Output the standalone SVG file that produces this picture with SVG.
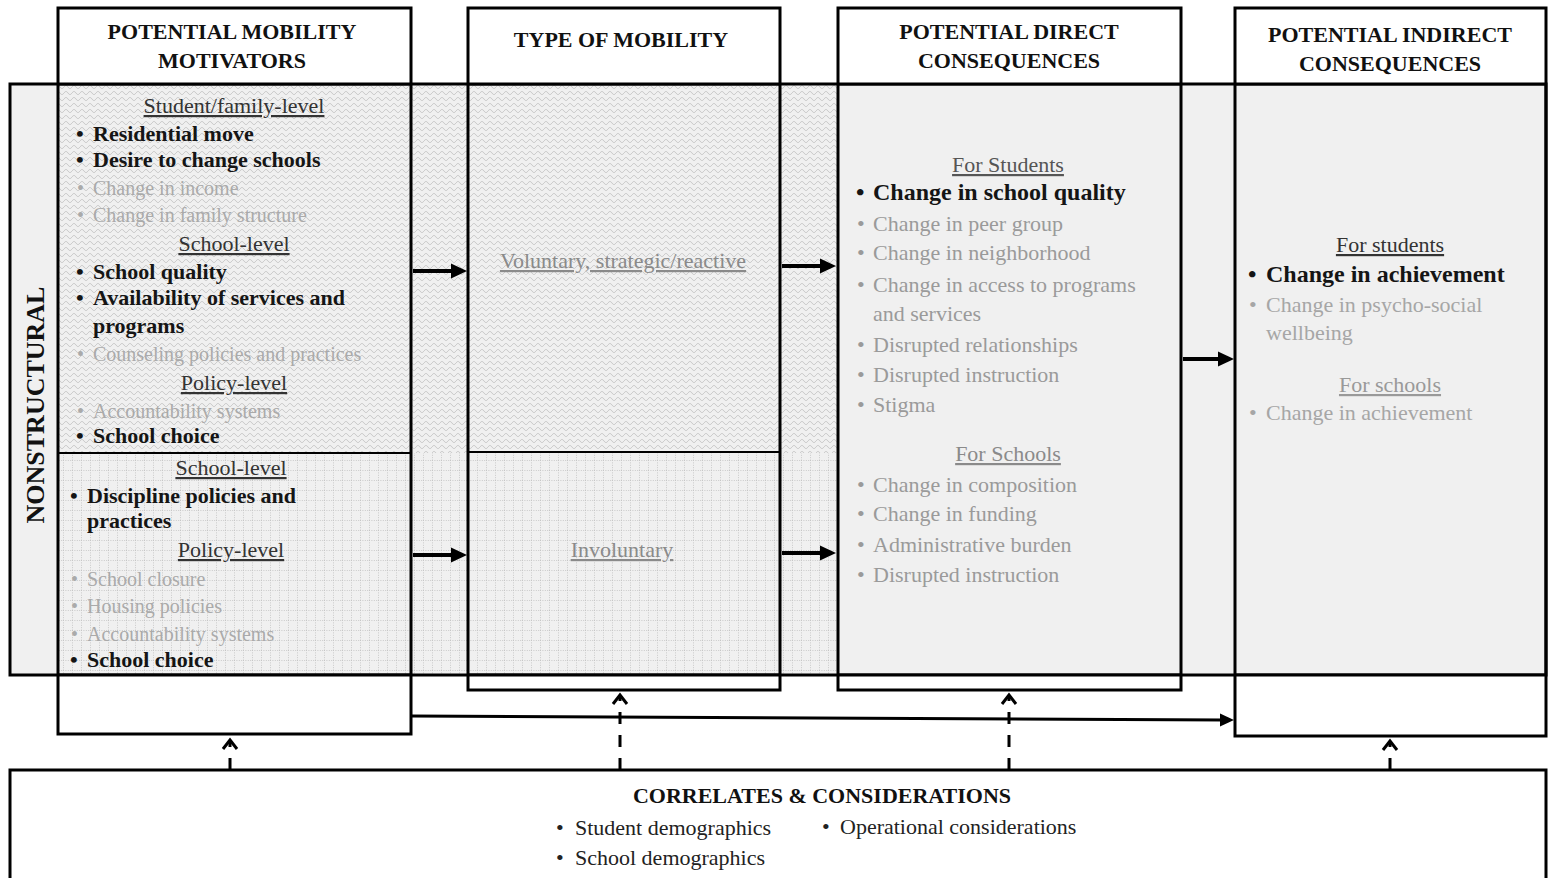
<svg xmlns="http://www.w3.org/2000/svg" width="1548" height="878" viewBox="0 0 1548 878">
<defs>
<style>
text{font-family:"Liberation Serif","Times New Roman",serif;}
.hd{font-family:"Liberation Serif",serif;font-size:22px;font-weight:bold;fill:#111;text-anchor:middle;}
.sub{font-family:"Liberation Serif",serif;font-size:22px;fill:#333;text-anchor:middle;text-decoration:underline;}
.bb{font-family:"Liberation Serif",serif;font-size:22px;font-weight:bold;fill:#151515;}
.g1{font-family:"Liberation Serif",serif;font-size:20px;fill:#aaaaaa;}
.g3{font-family:"Liberation Serif",serif;font-size:22px;fill:#9a9a9a;}
.b3{font-family:"Liberation Serif",serif;font-size:24px;font-weight:bold;fill:#151515;}
.bt{font-family:"Liberation Serif",serif;font-size:22px;fill:#222;}
.ln{fill:none;stroke:#000;stroke-width:3;}
.arr{stroke:#000;stroke-width:4;fill:none;}
.dash{stroke:#000;stroke-width:3;fill:none;stroke-dasharray:12 11;}
.chev{stroke:#000;stroke-width:3;fill:none;}
</style>
<pattern id="wave" width="8" height="6" patternUnits="userSpaceOnUse">
<path d="M0 3 C1.3 1 2.7 1 4 3 S6.7 5 8 3" fill="none" stroke="#bdbdbd" stroke-width="0.9"/>
</pattern>
<pattern id="grid" width="9" height="10" patternUnits="userSpaceOnUse">
<path d="M0.5 0 V10 M0 0.5 H9" fill="none" stroke="#c4c4c4" stroke-width="0.9" stroke-dasharray="1 1.4"/>
</pattern>
<marker id="ah" markerUnits="userSpaceOnUse" markerWidth="16" markerHeight="16" viewBox="0 0 16 16" refX="5" refY="8" orient="auto">
<path d="M0 0.5 L16 8 L0 15.5 z" fill="#000"/>
</marker>
<marker id="ah2" markerUnits="userSpaceOnUse" markerWidth="14" markerHeight="14" viewBox="0 0 14 14" refX="4" refY="7" orient="auto">
<path d="M0 0.5 L14 7 L0 13.5 z" fill="#000"/>
</marker>
</defs>
<rect width="1548" height="878" fill="#fff"/>

<g id="band">
<rect x="10" y="84" width="1536" height="591" fill="#f0f0f0"/>
<rect x="58" y="84" width="780" height="369" fill="url(#wave)"/>
<rect x="58" y="453" width="780" height="222" fill="url(#grid)"/>
<rect x="10" y="84" width="1536" height="591" class="ln"/>
<text transform="translate(44 405) rotate(-90)" text-anchor="middle" style="font-family:'Liberation Serif',serif;font-size:26px;font-weight:bold;fill:#111">NONSTRUCTURAL</text>
</g>

<g id="col-motivators">
<rect x="58" y="8" width="353" height="76" fill="#fff"/>
<rect x="58" y="675" width="353" height="59" fill="#fff"/>
<rect x="58" y="8" width="353" height="726" class="ln"/>
<line x1="58" y1="84" x2="411" y2="84" class="ln"/>
<line x1="58" y1="453" x2="411" y2="453" stroke="#000" stroke-width="2"/>
<line x1="58" y1="675" x2="411" y2="675" class="ln"/>
<text class="hd" x="232" y="39">POTENTIAL MOBILITY</text>
<text class="hd" x="232" y="68">MOTIVATORS</text>
<text class="sub" x="234" y="113">Student/family-level</text>
<text class="bb" y="141"><tspan x="76">•</tspan><tspan x="93">Residential move</tspan></text>
<text class="bb" y="167"><tspan x="76">•</tspan><tspan x="93">Desire to change schools</tspan></text>
<text class="g1" y="195"><tspan x="77">•</tspan><tspan x="93">Change in income</tspan></text>
<text class="g1" y="222"><tspan x="77">•</tspan><tspan x="93">Change in family structure</tspan></text>
<text class="sub" x="234" y="251">School-level</text>
<text class="bb" y="279"><tspan x="76">•</tspan><tspan x="93">School quality</tspan></text>
<text class="bb" y="305"><tspan x="76">•</tspan><tspan x="93">Availability of services and</tspan></text>
<text class="bb" x="93" y="333">programs</text>
<text class="g1" y="361"><tspan x="77">•</tspan><tspan x="93">Counseling policies and practices</tspan></text>
<text class="sub" x="234" y="390">Policy-level</text>
<text class="g1" y="418"><tspan x="77">•</tspan><tspan x="93">Accountability systems</tspan></text>
<text class="bb" y="443"><tspan x="76">•</tspan><tspan x="93">School choice</tspan></text>
<text class="sub" x="231" y="475">School-level</text>
<text class="bb" y="503"><tspan x="70">•</tspan><tspan x="87">Discipline policies and</tspan></text>
<text class="bb" x="87" y="528">practices</text>
<text class="sub" x="231" y="557">Policy-level</text>
<text class="g1" y="586"><tspan x="71">•</tspan><tspan x="87">School closure</tspan></text>
<text class="g1" y="613"><tspan x="71">•</tspan><tspan x="87">Housing policies</tspan></text>
<text class="g1" y="641"><tspan x="71">•</tspan><tspan x="87">Accountability systems</tspan></text>
<text class="bb" y="667"><tspan x="70">•</tspan><tspan x="87">School choice</tspan></text>
</g>

<g id="col-type">
<rect x="468" y="8" width="312" height="76" fill="#fff"/>
<rect x="468" y="675" width="312" height="15" fill="#fff"/>
<rect x="468" y="8" width="312" height="682" class="ln"/>
<line x1="468" y1="84" x2="780" y2="84" class="ln"/>
<line x1="468" y1="452" x2="780" y2="452" stroke="#000" stroke-width="2"/>
<line x1="468" y1="675" x2="780" y2="675" class="ln"/>
<text class="hd" x="621" y="47">TYPE OF MOBILITY</text>
<text x="623" y="268" style="font-family:'Liberation Serif',serif;font-size:22px;fill:#8a8a8a;text-anchor:middle;text-decoration:underline">Voluntary, strategic/reactive</text>
<text x="622" y="557" style="font-family:'Liberation Serif',serif;font-size:22px;fill:#8a8a8a;text-anchor:middle;text-decoration:underline">Involuntary</text>
</g>

<g id="col-direct">
<rect x="838" y="8" width="343" height="76" fill="#fff"/>
<rect x="838" y="675" width="343" height="15" fill="#fff"/>
<rect x="838" y="8" width="343" height="682" class="ln"/>
<line x1="838" y1="84" x2="1181" y2="84" class="ln"/>
<line x1="838" y1="675" x2="1181" y2="675" class="ln"/>
<text class="hd" x="1009" y="39">POTENTIAL DIRECT</text>
<text class="hd" x="1009" y="68">CONSEQUENCES</text>
<text x="1008" y="172" style="font-family:'Liberation Serif',serif;font-size:22px;fill:#555;text-anchor:middle;text-decoration:underline">For Students</text>
<text class="b3" y="200"><tspan x="856">•</tspan><tspan x="873">Change in school quality</tspan></text>
<text class="g3" y="231"><tspan x="857">•</tspan><tspan x="873">Change in peer group</tspan></text>
<text class="g3" y="260"><tspan x="857">•</tspan><tspan x="873">Change in neighborhood</tspan></text>
<text class="g3" y="292"><tspan x="857">•</tspan><tspan x="873">Change in access to programs</tspan></text>
<text class="g3" x="873" y="321">and services</text>
<text class="g3" y="352"><tspan x="857">•</tspan><tspan x="873">Disrupted relationships</tspan></text>
<text class="g3" y="382"><tspan x="857">•</tspan><tspan x="873">Disrupted instruction</tspan></text>
<text class="g3" y="412"><tspan x="857">•</tspan><tspan x="873">Stigma</tspan></text>
<text x="1008" y="461" style="font-family:'Liberation Serif',serif;font-size:22px;fill:#8a8a8a;text-anchor:middle;text-decoration:underline">For Schools</text>
<text class="g3" y="492"><tspan x="857">•</tspan><tspan x="873">Change in composition</tspan></text>
<text class="g3" y="521"><tspan x="857">•</tspan><tspan x="873">Change in funding</tspan></text>
<text class="g3" y="552"><tspan x="857">•</tspan><tspan x="873">Administrative burden</tspan></text>
<text class="g3" y="582"><tspan x="857">•</tspan><tspan x="873">Disrupted instruction</tspan></text>
</g>

<g id="col-indirect">
<rect x="1235" y="8" width="311" height="76" fill="#fff"/>
<rect x="1235" y="675" width="311" height="61" fill="#fff"/>
<rect x="1235" y="8" width="311" height="728" class="ln"/>
<line x1="1235" y1="84" x2="1546" y2="84" class="ln"/>
<line x1="1235" y1="675" x2="1546" y2="675" class="ln"/>
<text class="hd" x="1390" y="42">POTENTIAL INDIRECT</text>
<text class="hd" x="1390" y="71">CONSEQUENCES</text>
<text x="1390" y="252" style="font-family:'Liberation Serif',serif;font-size:22px;fill:#333;text-anchor:middle;text-decoration:underline">For students</text>
<text class="b3" y="282"><tspan x="1248">•</tspan><tspan x="1266">Change in achievement</tspan></text>
<text class="g3" y="312" style="fill:#a6a6a6"><tspan x="1249">•</tspan><tspan x="1266">Change in psycho-social</tspan></text>
<text class="g3" x="1266" y="340" style="fill:#a6a6a6">wellbeing</text>
<text x="1390" y="392" style="font-family:'Liberation Serif',serif;font-size:22px;fill:#999;text-anchor:middle;text-decoration:underline">For schools</text>
<text class="g3" y="420" style="fill:#a6a6a6"><tspan x="1249">•</tspan><tspan x="1266">Change in achievement</tspan></text>
</g>

<g id="correlates">
<rect x="10" y="770" width="1536" height="130" fill="#fff" class="ln"/>
<text class="hd" x="822" y="803">CORRELATES &amp; CONSIDERATIONS</text>
<text class="bt" y="835"><tspan x="556">•</tspan><tspan x="575">Student demographics</tspan></text>
<text class="bt" y="865"><tspan x="556">•</tspan><tspan x="575">School demographics</tspan></text>
<text class="bt" y="834"><tspan x="822">•</tspan><tspan x="840">Operational considerations</tspan></text>
</g>

<g id="connectors">
<line x1="413" y1="271" x2="456" y2="271" class="arr" marker-end="url(#ah)"/>
<line x1="413" y1="555" x2="456" y2="555" class="arr" marker-end="url(#ah)"/>
<line x1="782" y1="266" x2="825" y2="266" class="arr" marker-end="url(#ah)"/>
<line x1="782" y1="553" x2="825" y2="553" class="arr" marker-end="url(#ah)"/>
<line x1="1183" y1="359" x2="1223" y2="359" class="arr" marker-end="url(#ah)"/>
<line x1="411" y1="716" x2="1224" y2="720" stroke="#000" stroke-width="3" marker-end="url(#ah2)"/>
<line x1="230" y1="770" x2="230" y2="742" class="dash"/>
<polyline points="223,749 230,740 237,749" class="chev"/>
<line x1="620" y1="770" x2="620" y2="697" class="dash"/>
<polyline points="613,704 620,695 627,704" class="chev"/>
<line x1="1009" y1="770" x2="1009" y2="697" class="dash"/>
<polyline points="1002,704 1009,695 1016,704" class="chev"/>
<line x1="1390" y1="770" x2="1390" y2="743" class="dash"/>
<polyline points="1383,750 1390,741 1397,750" class="chev"/>
</g>
</svg>
